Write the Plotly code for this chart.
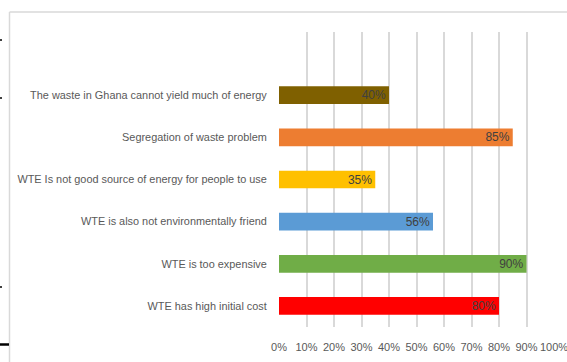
import plotly.graph_objects as go

categories = [
    "WTE has high initial cost",
    "WTE is too expensive",
    "WTE is also not environmentally friend",
    "WTE Is not good source of energy for people to use",
    "Segregation of waste problem",
    "The waste in Ghana cannot yield much of energy",
]
values = [80, 90, 56, 35, 85, 40]
labels = ["80%", "90%", "56%", "35%", "85%", "40%"]
colors = ["#FF0000", "#70AD47", "#5B9BD5", "#FFC000", "#ED7D31", "#7F6000"]
x_ticks = [0, 10, 20, 30, 40, 50, 60, 70, 80, 90, 100]
x_tick_text = [f"{v}%" for v in x_ticks]

FONT = "Liberation Sans"

W, H = 567, 362
L, R, T, B = 279, 13, 32, 35
pw = W - L - R
ph = H - T - B

def px(x):
    return (x - L) / pw

def py(y):
    return 1 - (y - T) / ph

fig = go.Figure(go.Bar(
    y=categories, x=values, orientation="h",
    marker=dict(color=colors, line=dict(width=0)),
    width=0.42,
    text=labels, textposition="inside", insidetextanchor="end",
    constraintext="none",
    textfont=dict(family=FONT, size=12, color="#404040"),
    cliponaxis=False,
))

shapes = [
    dict(type="line", xref="paper", yref="paper", x0=px(9.5), x1=px(567), y0=py(12), y1=py(12),
         line=dict(color="#D9D9D9", width=1.5)),
    dict(type="line", xref="paper", yref="paper", x0=px(9.5), x1=px(9.5), y0=py(12), y1=py(362),
         line=dict(color="#D9D9D9", width=1.5)),
    dict(type="line", xref="paper", yref="paper", x0=px(0), x1=px(2), y0=py(40), y1=py(40),
         line=dict(color="#000000", width=1.5)),
    dict(type="line", xref="paper", yref="paper", x0=px(0), x1=px(2), y0=py(98), y1=py(98),
         line=dict(color="#000000", width=1.5)),
    dict(type="line", xref="paper", yref="paper", x0=px(0), x1=px(2), y0=py(287), y1=py(287),
         line=dict(color="#000000", width=1.5)),
    dict(type="line", xref="paper", yref="paper", x0=px(0), x1=px(9), y0=py(344.5), y1=py(344.5),
         line=dict(color="#000000", width=2.5)),
]

fig.update_layout(
    width=W, height=H,
    margin=dict(l=L, r=R, t=T, b=B, pad=0, autoexpand=False),
    paper_bgcolor="white", plot_bgcolor="white",
    showlegend=False,
    shapes=shapes,
    xaxis=dict(
        range=[0, 100], tickvals=x_ticks, ticktext=x_tick_text,
        showgrid=True, gridcolor="#D9D9D9", gridwidth=1.5,
        zeroline=False, showline=False, automargin=False,
        ticklabeloverflow="allow",
        ticks="outside", ticklen=10, tickcolor="rgba(0,0,0,0)",
        tickfont=dict(family=FONT, size=11, color="#595959"),
        fixedrange=True,
    ),
    yaxis=dict(
        type="category", range=[-0.5, 6.5],
        showgrid=False, zeroline=False, showline=False, automargin=False,
        ticks="outside", ticklen=9, tickcolor="rgba(0,0,0,0)",
        tickfont=dict(family=FONT, size=10.9, color="#595959"),
        fixedrange=True,
    ),
    bargap=0.58,
)

fig.write_html("out.html")
